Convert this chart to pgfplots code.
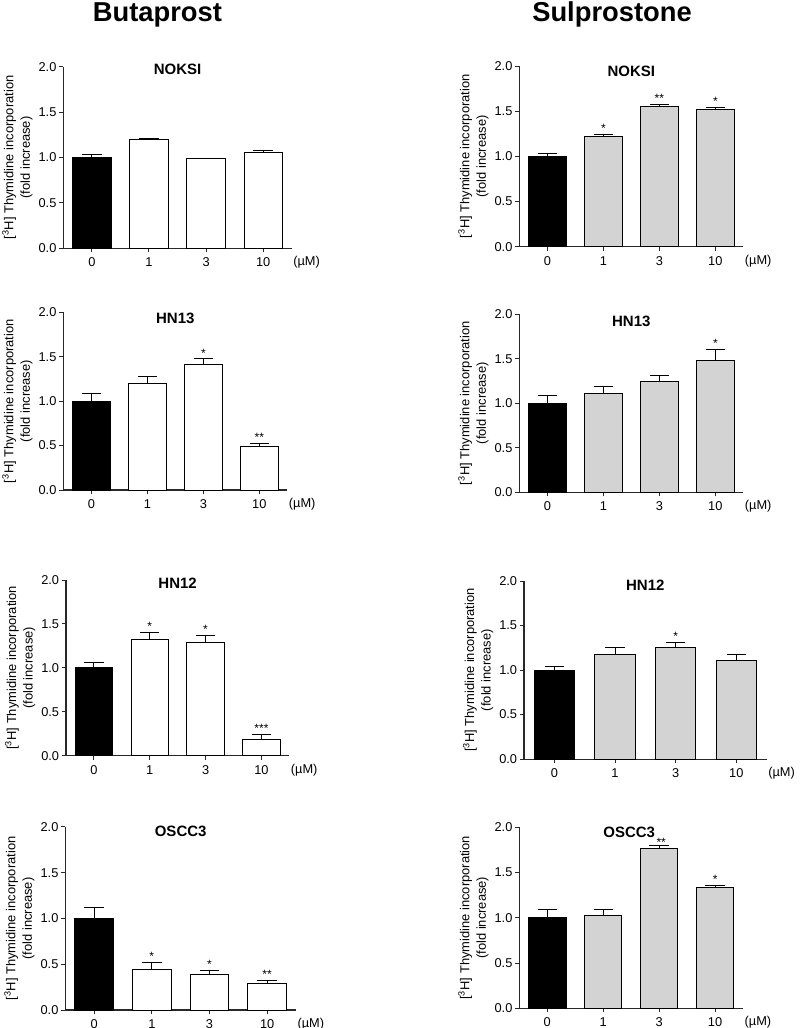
\documentclass[border=0pt]{standalone}
\usepackage{fontspec}
\setmainfont{Liberation Sans}
\usepackage{pgfplots}
\pgfplotsset{compat=1.18}
\definecolor{bargray}{RGB}{211,211,211}
\definecolor{axgray}{RGB}{40,40,40}
\pgfplotsset{
 panel/.style={
  scale only axis, anchor=south west,
  xmin=-0.5, xmax=3.5, ymin=0, ymax=2,
  axis x line*=bottom, axis y line*=left,
  axis line style={axgray, line width=0.8pt},
  xtick={0,1,2,3}, xticklabels={0,1,3,10},
  ytick={0,0.5,1,1.5,2},
  tick align=outside, major tick length=3pt,
  tick style={axgray, line width=0.75pt},
  tick label style={font=\fontsize{9.6}{11}\selectfont},
  /pgf/number format/assume math mode=true,
  yticklabel style={/pgf/number format/fixed, /pgf/number format/fixed zerofill, /pgf/number format/precision=1, inner sep=0pt, xshift=-2pt},
  xticklabel style={anchor=base, inner sep=0pt, yshift=-11pt},
  ylabel={[\textsuperscript{3}H] Thymidine incorporation\\(fold increase)},
  ylabel style={at={(rel axis cs:0,0.5)}, anchor=center, yshift=34.4pt, align=center, font=\fontsize{9.7}{12.4}\selectfont},
  every axis title shift=0pt,
  title style={at={(0.5,1)}, anchor=base, font=\fontsize{11.25}{13}\selectfont\bfseries},
  clip=false,
 },
 errs/.style={error bars/.cd, y dir=plus, y explicit,
   error bar style={black, line width=0.75pt},
   error mark options={rotate=90, black, line width=0.75pt, mark size=7.3pt}},
 ctrl/.style={ybar, bar width=0.67, bar shift=0pt, fill=black, draw=black, line width=0.75pt, errs},
 treat/.style={ybar, bar width=0.67, bar shift=0pt, fill=#1, draw=black, line width=0.75pt, errs},
 stars/.style={draw=none, mark=none, nodes near coords, point meta=explicit symbolic,
   every node near coord/.append style={anchor=south, inner sep=0pt, yshift=1.2pt, font=\fontsize{9}{9}\selectfont}},
}
\newcommand{\unit}{\node[anchor=base west, inner sep=0pt, xshift=1pt, yshift=-13pt, font=\fontsize{9.6}{11}\selectfont] at (rel axis cs:1,0) {(µM)};}
\begin{document}
\begin{tikzpicture}
\path[use as bounding box] (0,0) rectangle (600pt,-771pt);
\node[anchor=base, font=\fontsize{20.5}{24}\selectfont\bfseries] at (118.1pt,-16.1pt) {Butaprost};
\node[anchor=base, font=\fontsize{20.5}{24}\selectfont\bfseries] at (459pt,-16.1pt) {Sulprostone};

% Panel 1: Butaprost NOKSI
\begin{axis}[panel, at={(47.5pt,-186.2pt)}, width=171.3pt, height=136.2pt, title={NOKSI}, title style={yshift=-6.2pt}]
\addplot[ctrl] coordinates {(0,1.00) +- (0,0.035)};
\addplot[treat=white] coordinates {(1,1.20) +- (0,0.012) (2,0.985) +- (0,0.0) (3,1.055) +- (0,0.02)};
\unit
\end{axis}

% Panel 2: Sulprostone NOKSI
\begin{axis}[panel, at={(389.5pt,-185.0pt)}, width=168pt, height=135.5pt, title={NOKSI}, title style={yshift=-8pt}]
\addplot[ctrl] coordinates {(0,1.00) +- (0,0.033)};
\addplot[treat=bargray] coordinates {(1,1.218) +- (0,0.022) (2,1.55) +- (0,0.026) (3,1.524) +- (0,0.022)};
\addplot[stars] coordinates {(1,1.24) [*] (2,1.576) [**] (3,1.546) [*]};
\unit
\end{axis}

% Panel 3: Butaprost HN13
\begin{axis}[panel, at={(47.5pt,-367.5pt)}, width=168pt, height=133.3pt, title={HN13}, title style={yshift=-8.2pt}]
\addplot[ctrl] coordinates {(0,1.00) +- (0,0.088)};
\addplot[treat=white] coordinates {(1,1.193) +- (0,0.083) (2,1.415) +- (0,0.06) (3,0.488) +- (0,0.037)};
\addplot[stars] coordinates {(2,1.475) [*] (3,0.525) [**]};
\unit
\end{axis}

% Panel 4: Sulprostone HN13
\begin{axis}[panel, at={(389.5pt,-369.2pt)}, width=168pt, height=133.5pt, title={HN13}, title style={yshift=-8.8pt}]
\addplot[ctrl] coordinates {(0,1.00) +- (0,0.086)};
\addplot[treat=bargray] coordinates {(1,1.112) +- (0,0.075) (2,1.243) +- (0,0.067) (3,1.476) +- (0,0.127)};
\addplot[stars] coordinates {(3,1.603) [*]};
\unit
\end{axis}

% Panel 5: Butaprost HN12
\begin{axis}[panel, at={(49.5pt,-566.8pt)}, width=167.5pt, height=131.8pt, title={HN12}, title style={yshift=-6.2pt}]
\addplot[ctrl] coordinates {(0,1.00) +- (0,0.059)};
\addplot[treat=white] coordinates {(1,1.324) +- (0,0.08) (2,1.287) +- (0,0.079) (3,0.19) +- (0,0.053)};
\addplot[stars] coordinates {(1,1.404) [*] (2,1.366) [*] (3,0.243) [***]};
\unit
\end{axis}

% Panel 6: Sulprostone HN12
\begin{axis}[panel, at={(393pt,-569.3pt)}, width=182pt, height=133.5pt, title={HN12}, title style={yshift=-6.8pt}]
\addplot[ctrl] coordinates {(0,1.00) +- (0,0.037)};
\addplot[treat=bargray] coordinates {(1,1.18) +- (0,0.075) (2,1.258) +- (0,0.049) (3,1.109) +- (0,0.067)};
\addplot[stars] coordinates {(2,1.307) [*]};
\unit
\end{axis}

% Panel 7: Butaprost OSCC3
\begin{axis}[panel, at={(49pt,-757.5pt)}, width=173pt, height=137.3pt, title={OSCC3}, title style={yshift=-7.3pt}]
\addplot[ctrl] coordinates {(0,1.00) +- (0,0.122)};
\addplot[treat=white] coordinates {(1,0.441) +- (0,0.076) (2,0.39) +- (0,0.044) (3,0.291) +- (0,0.033)};
\addplot[stars] coordinates {(1,0.517) [*] (2,0.434) [*] (3,0.324) [**]};
\unit
\end{axis}

% Panel 8: Sulprostone OSCC3
\begin{axis}[panel, at={(389.5pt,-756.2pt)}, width=167.8pt, height=135.8pt, title={OSCC3}, title style={yshift=-7.5pt, xshift=-1.5pt}]
\addplot[ctrl] coordinates {(0,1.00) +- (0,0.087)};
\addplot[treat=bargray] coordinates {(1,1.02) +- (0,0.074) (2,1.768) +- (0,0.032) (3,1.33) +- (0,0.03)};
\addplot[stars] coordinates {(3,1.36) [*]};
\addplot[stars, every node near coord/.append style={yshift=-2.2pt, xshift=1.5pt}] coordinates {(2,1.80) [**]};
\unit
\end{axis}
\end{tikzpicture}
\end{document}
